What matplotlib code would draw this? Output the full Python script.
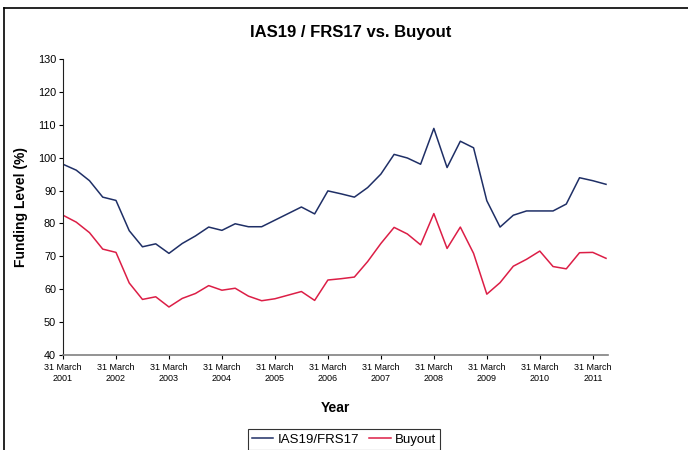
import matplotlib
matplotlib.use("Agg")
import matplotlib.pyplot as plt
from matplotlib.lines import Line2D

plt.rcParams['font.family'] = ['Liberation Sans', 'DejaVu Sans']

# quarterly values, 31 March 2001 .. 30 June 2011
ias19 = [98.0, 96.2, 93.0, 88.0, 87.0, 77.8, 72.9, 73.8, 70.9, 73.9,
         76.2, 78.9, 77.9, 79.9, 79.0, 79.0, 81.0, 83.0, 85.0, 82.9,
         89.9, 89.0, 88.0, 90.9, 95.0, 101.0, 99.9, 98.0, 108.9, 97.0,
         105.0, 103.0, 86.9, 78.9, 82.5, 83.8, 83.8, 83.8, 85.9, 93.9,
         93.0, 91.9]
buyout = [82.5, 80.4, 77.2, 72.2, 71.2, 61.9, 56.9, 57.7, 54.6, 57.2,
          58.7, 61.1, 59.7, 60.3, 57.9, 56.5, 57.1, 58.2, 59.3, 56.6,
          62.8, 63.2, 63.7, 68.4, 73.9, 78.8, 76.8, 73.5, 83.0, 72.4,
          78.9, 70.9, 58.5, 62.0, 67.0, 69.1, 71.6, 66.9, 66.2, 71.1,
          71.2, 69.4]
tick_labels = ['31 March\n%d' % y for y in range(2001, 2012)]

W, H = 688, 450
fig = plt.figure(figsize=(W / 100, H / 100), dpi=100)
ax = fig.add_axes([63 / W, (H - 355) / H, (608 - 63) / W, (355 - 59) / H])

x = list(range(len(ias19)))
ax.plot(x, ias19, color='#1f2f66', lw=1.1, label='IAS19/FRS17')
ax.plot(x, buyout, color='#dc1e46', lw=1.1, label='Buyout')

ax.set_xlim(0, 41.15)
ax.set_ylim(40, 130)
ax.set_yticks(range(40, 131, 10))
ax.set_xticks(range(0, 41, 4))
ax.set_xticklabels(tick_labels, fontsize=6.5)
ax.tick_params(axis='y', labelsize=7.8, length=3, width=0.8, pad=2)
ax.tick_params(axis='x', length=3, width=0.8, pad=3)

ax.spines['top'].set_visible(False)
ax.spines['right'].set_visible(False)
ax.spines['left'].set_color('#202020')
ax.spines['bottom'].set_color('#808080')
ax.spines['bottom'].set_linewidth(1.2)

ax.set_xlabel('Year', fontsize=10, fontweight='bold', labelpad=13)
ax.set_ylabel('Funding Level (%)', fontsize=10, fontweight='bold', labelpad=7)

fig.text(351 / W, 1 - 32 / H, 'IAS19 / FRS17 vs. Buyout', ha='center',
         va='center', fontsize=12, fontweight='bold')

leg = fig.legend(loc='upper center', bbox_to_anchor=(344 / W, 1 - 429 / H),
                 ncol=2, fontsize=9.5, frameon=True, fancybox=False,
                 edgecolor='black', handlelength=1.6, handletextpad=0.3,
                 columnspacing=0.8, borderpad=0.35, borderaxespad=0)
leg.get_frame().set_linewidth(0.8)

# outer chart border (partially cut by image edge)
fig.add_artist(Line2D([4 / W, 1], [1 - 8 / H, 1 - 8 / H], color='black', lw=1.2))
fig.add_artist(Line2D([4 / W, 4 / W], [0, 1 - 8 / H], color='black', lw=1.2))

fig.savefig('out.png', dpi=100)
